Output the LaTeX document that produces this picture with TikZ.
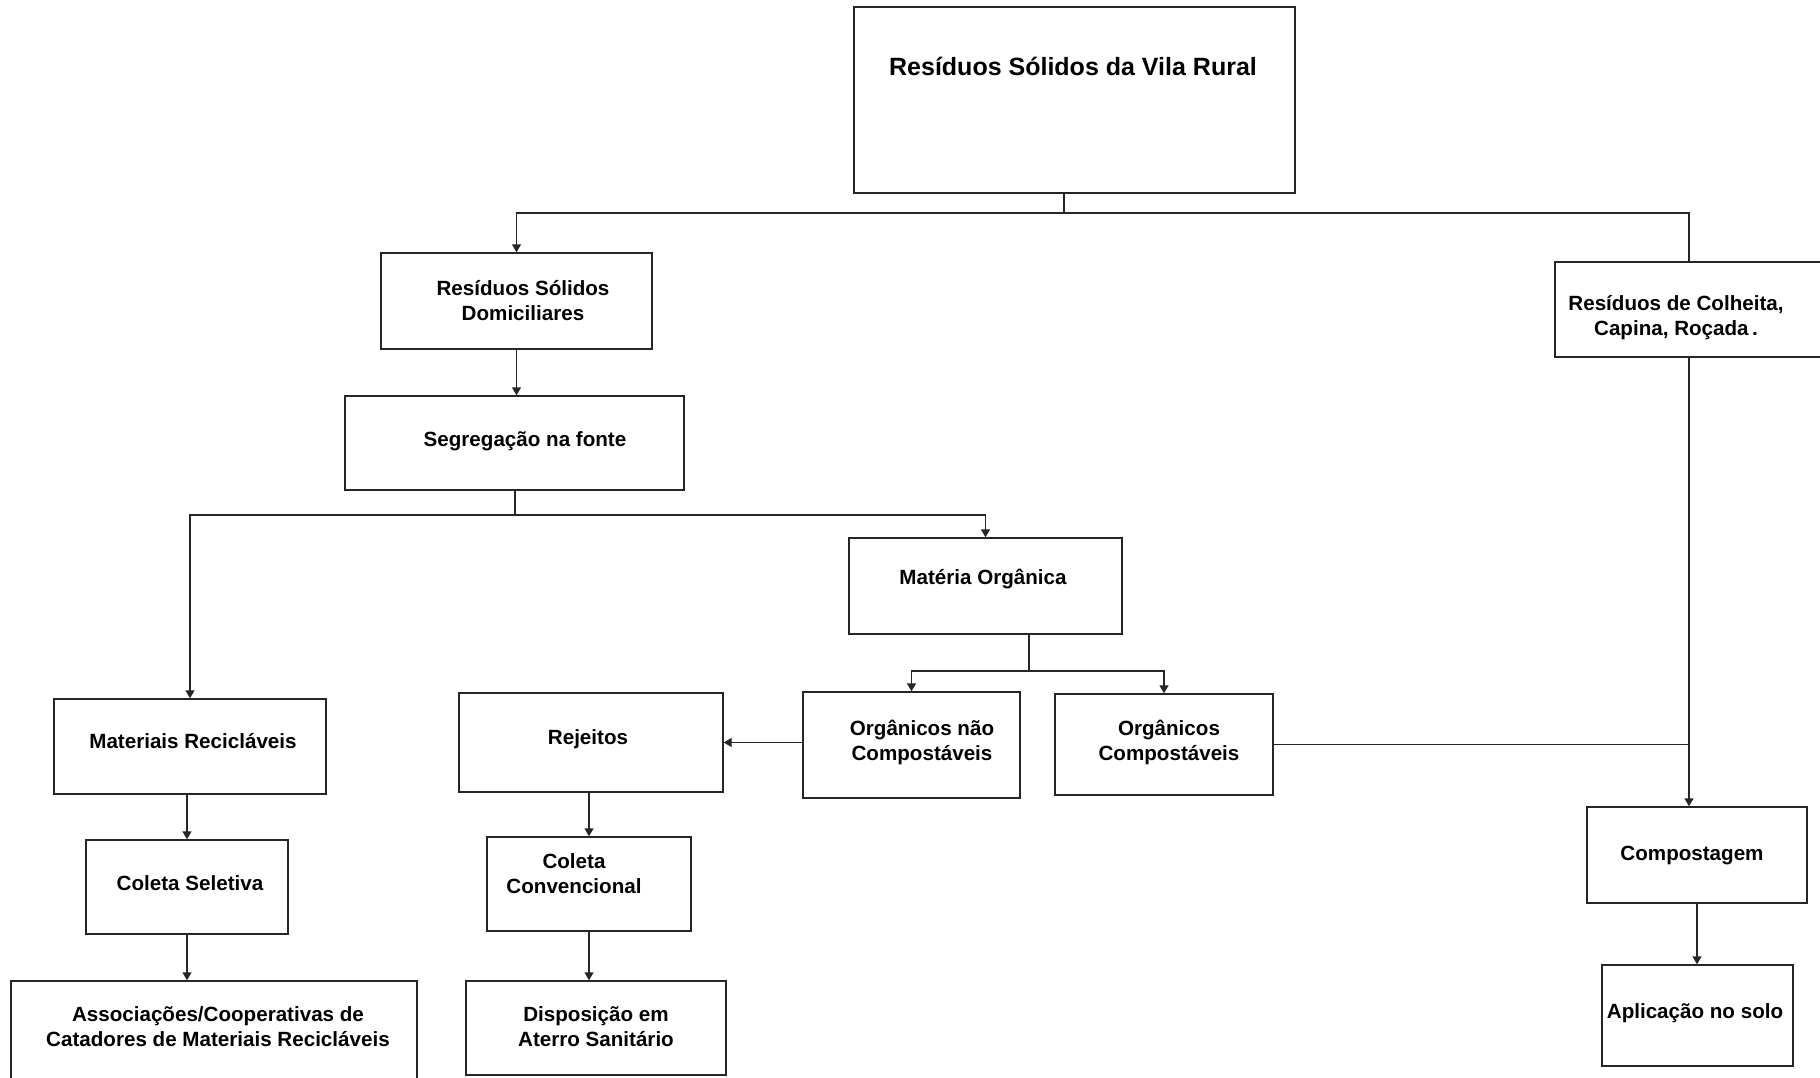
\documentclass[tikz,border=0pt]{standalone}
\usepackage{fontspec}
\setmainfont{Liberation Sans}
\usetikzlibrary{arrows.meta}
\begin{document}
\begin{tikzpicture}[x=1pt,y=-1pt,
	box/.style={draw=black!85, line width=1.4pt, inner sep=0pt},
	txt/.style={font=\fontsize{20.6}{25}\selectfont\bfseries, align=center, inner sep=0pt},
	link/.style={draw=black!85, line width=1.4pt},
	arr/.style={link, -{Triangle[width=9pt,length=8pt]}}]
	\useasboundingbox (0,0) rectangle (1820,1078);
	\clip (0,0) rectangle (1820,1078);

	% caixas
	\node[box, minimum width=441pt, minimum height=186pt] (top) at (1074.5,100) {};
	\node[box, minimum width=271pt, minimum height=96pt] (dom) at (516.5,301) {};
	\node[box, minimum width=339pt, minimum height=94pt] (seg) at (514.5,443) {};
	\node[box, minimum width=273pt, minimum height=96pt] (mo) at (985.5,586) {};
	\node[box, minimum width=268pt, minimum height=95pt] (col) at (1689,309.5) {};
	\node[box, minimum width=272pt, minimum height=95pt] (mat) at (190,746.5) {};
	\node[box, minimum width=202pt, minimum height=94pt] (colsel) at (187,887) {};
	\node[box, minimum width=406pt, minimum height=109pt] (assoc) at (214,1035.5) {};
	\node[box, minimum width=264pt, minimum height=99pt] (rej) at (591,742.5) {};
	\node[box, minimum width=204pt, minimum height=94pt] (conv) at (589,884) {};
	\node[box, minimum width=260pt, minimum height=94pt] (disp) at (596,1028) {};
	\node[box, minimum width=217pt, minimum height=106pt] (nao) at (911.5,745) {};
	\node[box, minimum width=218pt, minimum height=101pt] (comp) at (1164,744.5) {};
	\node[box, minimum width=220pt, minimum height=96pt] (cpt) at (1697,855) {};
	\node[box, minimum width=191pt, minimum height=101pt] (apl) at (1697.5,1015.5) {};

	% textos
	\node[txt, font=\fontsize{25}{30}\selectfont\bfseries] (tTop) at (1073,66) {Resíduos Sólidos da Vila Rural};
	\node[txt] (tDom) at (523,301) {Resíduos Sólidos\\Domiciliares};
	\node[txt] (tSeg) at (525,441) {Segregação na fonte};
	\node[txt] (tMo) at (983,579) {Matéria Orgânica};
	\node[txt] (tCol) at (1676,318) {Resíduos de Colheita,\\Capina, Roçada\,.};
	\node[txt] (tMat) at (193,741) {Materiais Recicláveis};
	\node[txt] (tColsel) at (190,883) {Coleta Seletiva};
	\node[txt] (tAssoc) at (218,1027) {Associações/Cooperativas de\\Catadores de Materiais Recicláveis};
	\node[txt] (tRej) at (588,739) {Rejeitos};
	\node[txt] (tConv) at (574,874) {Coleta\\Convencional};
	\node[txt] (tDisp) at (596,1027) {Disposição em\\Aterro Sanitário};
	\node[txt] (tNao) at (922,742) {Orgânicos não\\Compostáveis};
	\node[txt] (tComp) at (1169,742) {Orgânicos\\Compostáveis};
	\node[txt] (tCpt) at (1692,855) {Compostagem};
	\node[txt] (tApl) at (1695,1013) {Aplicação no solo};

	% ligacoes
	\coordinate (j1) at (1064,213);
	\draw[link] (top.south -| j1) -- (j1);
	\draw[arr] (j1) -| (dom.north);
	\draw[link] (j1) -| (col.north);
	\draw[arr] (dom.south) -- (dom.south |- seg.north);

	\coordinate (j2) at (515,515);
	\draw[link] (seg.south -| j2) -- (j2);
	\draw[arr] (j2) -| (mat.north);
	\draw[arr] (j2) -| (mo.north);

	\coordinate (j3) at (1029,671);
	\draw[link] (mo.south -| j3) -- (j3);
	\draw[arr] (j3) -| (nao.north);
	\draw[arr] (j3) -| (comp.north);
	\draw[arr] (rej.east -| nao.west) -- (rej.east);

	\coordinate (j4) at (col.south |- comp.east);
	\draw[link] (comp.east) -- (j4);
	\draw[arr] (col.south) -- (col.south |- cpt.north);
	\draw[arr] (cpt.south) -- (cpt.south |- apl.north);

	\draw[arr] (mat.south -| colsel.north) -- (colsel.north);
	\draw[arr] (colsel.south) -- (colsel.south |- assoc.north);
	\draw[arr] (rej.south -| conv.north) -- (conv.north);
	\draw[arr] (conv.south) -- (conv.south |- disp.north);
\end{tikzpicture}
\end{document}
